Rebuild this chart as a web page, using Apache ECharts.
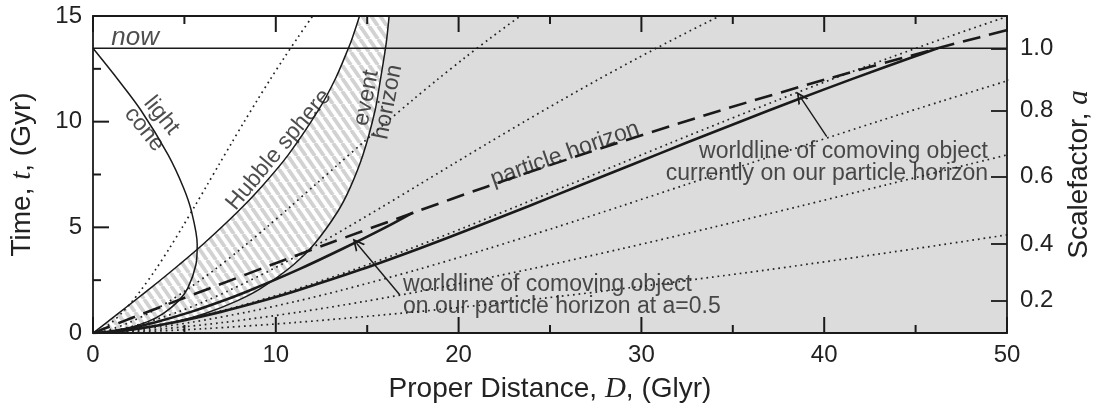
<!DOCTYPE html>
<html><head><meta charset="utf-8">
<script src="https://cdn.jsdelivr.net/npm/echarts@6/dist/echarts.min.js"></script>
<style>html,body{margin:0;padding:0;background:#fff}#c{width:1098px;height:407px}</style>
</head><body><div id="c"></div><script>
// ---- axis ticks / labels ----
const xTickStep = 10;
const yTickStep = 5;
const xMajorTicks = [0, 10, 20, 30, 40, 50];
const xMinorTicks = [5, 15, 25, 35, 45];
const yMajorTicks = [0, 5, 10, 15];
const yMinorTicks = [2.5, 7.5, 12.5];
const scaleLabels = ['0.2', '0.4', '0.6', '0.8', '1.0'];
const scaleTimes = [1.54, 4.2, 7.4, 10.54, 13.47];
const nowTime = 13.47;
const nowLine = [[0, nowTime], [50, nowTime]];

// ---- curves, [D (Glyr), t (Gyr)] ----
const lightCone = [[0,13.47],[1.33,12.03],[2.63,10.53],[4.11,8.43],[4.94,6.90],[5.39,5.75],[5.70,4.20],[5.63,3.23],[5.18,2.11],[4.68,1.52],[3.84,0.92],[3.0,0.54],[1.74,0.19],[0.78,0.048],[0.29,0.01],[0,0]];
const hubbleSphere = [[0,0],[0.015,0.01],[0.072,0.048],[0.285,0.19],[0.81,0.54],[1.37,0.92],[2.26,1.52],[3.13,2.11],[4.71,3.23],[6.02,4.20],[7.93,5.75],[9.20,6.90],[10.68,8.43],[12.32,10.53],[13.26,12.03],[13.97,13.47],[14.2,14],[14.58,15],[14.91,16]];
const eventHorizon = [[0,0],[0.42,0.01],[1.10,0.048],[2.54,0.19],[4.60,0.54],[6.13,0.92],[7.88,1.52],[9.18,2.11],[10.97,3.23],[12.10,4.20],[13.39,5.75],[14.08,6.90],[14.77,8.43],[15.43,10.53],[15.73,12.03],[16.0,13.47],[16.08,14],[16.2,15],[16.3,16]];
const particleHorizon = [[0,0],[0.03,0.01],[0.146,0.048],[0.57,0.19],[1.61,0.54],[2.75,0.92],[4.56,1.52],[6.37,2.11],[9.77,3.23],[12.78,4.20],[17.71,5.75],[21.46,6.90],[26.7,8.43],[34.33,10.53],[40.21,12.03],[46.2,13.47],[48.52,14],[53.04,15]];
const worldlineNow = [[0,0],[0.947,0.05],[2.389,0.2],[4.403,0.5],[6.995,1],[9.175,1.5],[11.13,2],[14.65,3],[17.856,4],[20.887,5],[23.821,6],[26.699,7],[29.573,8],[32.46,9],[35.394,10],[38.392,11],[41.474,12],[44.666,13],[46.2,13.47]];
const worldlineHalf = [[0,0],[0.726,0.05],[1.83,0.2],[3.374,0.5],[5.36,1],[7.03,1.5],[8.528,2],[11.225,3],[13.682,4],[16.004,5],[17.5,5.7]];
const dotted1 = [[0,0],[0.221,0.05],[0.558,0.2],[1.029,0.5],[1.635,1],[2.145,1.5],[2.602,2],[3.425,3],[4.174,4],[4.883,5],[5.568,6],[6.241,7],[6.913,8],[7.588,9],[8.274,10],[8.975,11],[9.695,12],[10.441,13],[11.216,14],[12.02,15]];
const dotted2 = [[0,0],[0.431,0.05],[1.086,0.2],[2.001,0.5],[3.179,1],[4.171,1.5],[5.059,2],[6.659,3],[8.117,4],[9.494,5],[10.828,6],[12.136,7],[13.442,8],[14.755,9],[16.088,10],[17.451,11],[18.852,12],[20.303,13],[21.809,14],[23.375,15]];
const dotted3 = [[0,0],[0.631,0.05],[1.592,0.2],[2.935,0.5],[4.663,1],[6.117,1.5],[7.42,2],[9.767,3],[11.904,4],[13.925,5],[15.88,6],[17.799,7],[19.715,8],[21.64,9],[23.596,10],[25.595,11],[27.649,12],[29.777,13],[31.986,14],[34.283,15]];
const dotted4 = [[0,0],[0.923,0.05],[2.327,0.2],[4.289,0.5],[6.813,1],[8.937,1.5],[10.841,2],[14.27,3],[17.393,4],[20.345,5],[23.202,6],[26.006,7],[28.805,8],[31.617,9],[34.475,10],[37.395,11],[40.397,12],[43.506,13],[46.733,14],[50.09,15]];
const dotted5 = [[0,0],[1.148,0.05],[2.897,0.2],[5.337,0.5],[8.478,1],[11.122,1.5],[13.49,2],[17.758,3],[21.644,4],[25.318,5],[28.874,6],[32.362,7],[35.846,8],[39.346,9],[42.902,10],[46.536,11],[50.271,12]];
const dotted6 = [[0,0],[1.539,0.05],[3.88,0.2],[7.148,0.5],[11.355,1],[14.895,1.5],[18.068,2],[23.783,3],[28.988,4],[33.908,5],[38.67,6],[43.343,7],[48.008,8],[52.695,9]];
const dotted7 = [[0,0],[2.39,0.05],[6.028,0.2],[11.112,0.5],[17.653,1],[23.157,1.5],[28.089,2],[36.974,3],[45.066,4],[52.714,5]];
const regionCorner = [60, 16];

// ---- annotations ----
const arrowNow = [[40.14, 9.29], [38.68, 11.18]];
const arrowHalf = [[16.79, 1.80], [14.42, 4.25]];
const textLabels = [
  { pos: [1.0, 13.98], text: 'now', rotate: 0, align: 'left', italic: true, size: 26 },
  { pos: [3.28, 9.96], text: 'light\ncone', rotate: -51, align: 'center', size: 23 },
  { pos: [10.16, 8.67], text: 'Hubble sphere', rotate: 50, align: 'center', size: 23 },
  { pos: [15.55, 11.03], text: 'event\nhorizon', rotate: 79, align: 'center', size: 23 },
  { pos: [25.82, 8.47], text: 'particle horizon', rotate: 19.5, align: 'center', size: 23 },
  { pos: [48.96, 8.07], text: 'worldline of comoving object\ncurrently on our particle horizon', rotate: 0, align: 'right', size: 23 },
  { pos: [16.96, 1.75], text: 'worldline of comoving object\non our particle horizon at a=0.5', rotate: 0, align: 'left', size: 23 }
];

const INK = '#1a1a1a';
const TXT = '#222222';
const SANS = 'Liberation Sans';
const MAJOR_LEN = 16, MINOR_LEN = 8;

function makeHatch() {
  const w = 9, h = 13;
  const c = document.createElement('canvas'); c.width = w; c.height = h;
  const g = c.getContext('2d');
  g.fillStyle = '#ffffff'; g.fillRect(0, 0, w, h);
  g.strokeStyle = '#d2d2d2'; g.lineWidth = 3.8;
  for (const k of [-w, 0, w]) { g.beginPath(); g.moveTo(k, 0); g.lineTo(k + w, h); g.stroke(); }
  return c;
}

const chart = echarts.init(document.getElementById('c'), null, { renderer: 'canvas' });

const tickLabel = { color: TXT, fontSize: 24, fontFamily: SANS };
const nameStyle = {
  color: TXT, fontSize: 28, fontFamily: SANS,
  rich: { i: { fontFamily: 'Liberation Serif', fontStyle: 'italic', fontSize: 29, color: TXT } }
};

function axis(pos, min, max, step, label, extra) {
  return Object.assign({
    type: 'value', position: pos, min: min, max: max, interval: step, z: 50,
    axisLine: { show: true, onZero: false, lineStyle: { color: INK, width: 1.8 } },
    axisTick: { show: false },
    minorTick: { show: false },
    splitLine: { show: false },
    axisLabel: label ? Object.assign({}, tickLabel, label) : { show: false }
  }, extra || {});
}

function curve(data, style, extra) {
  return Object.assign({
    type: 'line', data: data, smooth: 0.3, showSymbol: false, symbol: 'none',
    clip: true, silent: true, lineStyle: style, z: 5
  }, extra || {});
}

const dotStyle = { color: '#222', width: 1.7, type: [1.7, 3.9] };
const thin = { color: INK, width: 1.5 };
const thick = { color: INK, width: 2.6 };

chart.setOption({
  animation: false,
  backgroundColor: '#ffffff',
  grid: { left: 93, right: 91, top: 16, bottom: 74, containLabel: false, outerBoundsMode: 'none' },
  xAxis: [
    axis('bottom', 0, 50, xTickStep, { margin: 10 }, {
      name: 'Proper Distance, {i|D}, (Glyr)', nameLocation: 'middle', nameGap: 42, nameTextStyle: nameStyle }),
    axis('top', 0, 50, xTickStep, null)
  ],
  yAxis: [
    axis('left', 0, 15, yTickStep, { margin: 11 }, {
      name: 'Time, {i|t}, (Gyr)', nameLocation: 'middle', nameGap: 56, nameTextStyle: nameStyle }),
    {
      z: 50,
      type: 'value', min: 0, max: 15, position: 'right',
      axisLine: { show: true, onZero: false, lineStyle: { color: INK, width: 1.8 } },
      axisTick: { show: true, inside: true, length: MAJOR_LEN, customValues: scaleTimes, lineStyle: { color: INK, width: 1.8 } },
      minorTick: { show: false },
      splitLine: { show: false },
      axisLabel: Object.assign({ margin: 13, customValues: scaleTimes,
        formatter: function (v) {
          const i = scaleTimes.findIndex(function (t) { return Math.abs(t - v) < 1e-6; });
          return i >= 0 ? scaleLabels[i] : '';
        } }, tickLabel),
      name: 'Scalefactor, {i|a}', nameLocation: 'middle', nameGap: 58, nameTextStyle: nameStyle
    }
  ],
  series: [
    // hatched region (between Hubble sphere and event horizon)
    curve(hubbleSphere.concat([regionCorner]), { width: 0, opacity: 0 },
      { areaStyle: { color: { image: makeHatch(), repeat: 'repeat' }, opacity: 1 }, z: 1 }),
    // grey region beyond the event horizon
    curve(eventHorizon.concat([regionCorner]), { width: 0, opacity: 0 },
      { areaStyle: { color: '#dcdcdc', opacity: 1 }, z: 2 }),
    curve(dotted1, dotStyle), curve(dotted2, dotStyle), curve(dotted3, dotStyle),
    curve(dotted4, dotStyle), curve(dotted5, dotStyle), curve(dotted6, dotStyle), curve(dotted7, dotStyle),
    curve(nowLine, thin, { smooth: false }),
    curve(lightCone, thin),
    curve(hubbleSphere, thin),
    curve(eventHorizon, thin),
    curve(worldlineHalf, thick),
    curve(worldlineNow, thick, {
      markLine: {
        silent: true, animation: false,
        symbol: ['none', 'path://M5,0 L10,10 L8.4,10 L5,3.2 L1.6,10 L0,10 Z'], symbolSize: 12,
        lineStyle: { type: 'solid', color: INK, width: 1.4 },
        label: { show: false },
        data: [
          [{ coord: arrowNow[0] }, { coord: arrowNow[1] }],
          [{ coord: arrowHalf[0] }, { coord: arrowHalf[1] }]
        ]
      }
    }),
    curve(particleHorizon, { color: INK, width: 2.6, type: [18, 9] }),
    // inward ticks on bottom, top and left frame, placed through the axes' scales
    {
      type: 'custom', coordinateSystem: 'cartesian2d', silent: true, z: 40, clip: false,
      data: [[0, 0]],
      renderItem: function (params, api) {
        const kids = [];
        function add(p, dx, dy) {
          kids.push({ type: 'line', shape: { x1: p[0], y1: p[1], x2: p[0] + dx, y2: p[1] + dy },
            style: { stroke: INK, lineWidth: 2 } });
        }
        xMajorTicks.forEach(function (v) { add(api.coord([v, 0]), 0, -MAJOR_LEN); add(api.coord([v, 15]), 0, MAJOR_LEN); });
        xMinorTicks.forEach(function (v) { add(api.coord([v, 0]), 0, -MINOR_LEN); add(api.coord([v, 15]), 0, MINOR_LEN); });
        yMajorTicks.forEach(function (v) { add(api.coord([0, v]), MAJOR_LEN, 0); });
        yMinorTicks.forEach(function (v) { add(api.coord([0, v]), MINOR_LEN, 0); });
        return { type: 'group', children: kids };
      }
    },
    {
      type: 'scatter', symbolSize: 0, silent: true, z: 10,
      data: textLabels.map(function (d) {
        return {
          value: d.pos,
          label: {
            show: true, position: 'inside', formatter: d.text, rotate: d.rotate,
            align: d.align, verticalAlign: 'middle', fontSize: d.size, lineHeight: d.size - 1,
            fontFamily: SANS, fontStyle: d.italic ? 'italic' : 'normal', color: TXT
          }
        };
      })
    }
  ]
});
</script></body></html>
